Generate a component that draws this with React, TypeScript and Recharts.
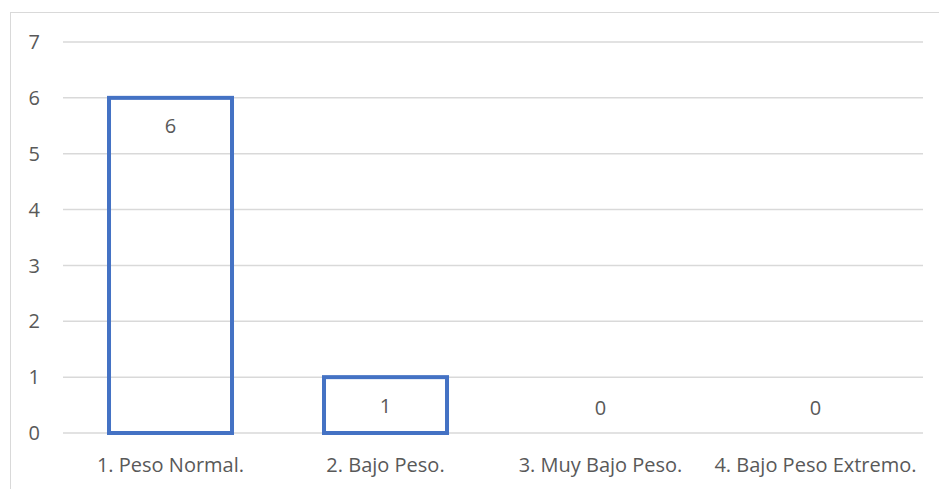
import React from "react";
import { BarChart, Bar, XAxis, YAxis, CartesianGrid } from "recharts";

const categories = ["1. Peso Normal.", "2. Bajo Peso.", "3. Muy Bajo Peso.", "4. Bajo Peso Extremo."];
const values = [6, 1, 0, 0];
const yTicks = [0, 1, 2, 3, 4, 5, 6, 7];

const data = categories.map((name, i) => ({ name, value: values[i] }));

const FONT = "'Open Sans', Lato, sans-serif";
const FS = 20;
const TEXT = "#595959";
const BLUE = "#4472C4";

const renderBar = (props: any) => {
  const { x, y, width, height, value } = props;
  const v = Array.isArray(value) ? value[1] - value[0] : Number(value);
  const cx = Number(x) + Number(width) / 2;
  const h = Number(height);
  const top = Number(y);
  const cy = v === 0 ? top + h - 26 : top + 28;
  return (
    <g>
      {h > 0 ? (
        <rect x={x} y={top} width={width} height={h} fill="none" stroke={BLUE} strokeWidth={4} />
      ) : null}
      <text x={cx} y={cy} textAnchor="middle" dominantBaseline="central" fill={TEXT} fontSize={FS} fontFamily={FONT}>
        {v}
      </text>
    </g>
  );
};

export default function App() {
  return (
    <div style={{ position: "absolute", left: 0, top: 0, width: 939, height: 489, overflow: "hidden", background: "#fff" }}>
      <div style={{ position: "absolute", left: 10, top: 12, width: 960, height: 520, border: "1px solid #d9d9d9", boxSizing: "border-box" }} />
      <div style={{ position: "absolute", left: 0, top: 0 }}>
        <BarChart width={939} height={489} data={data} margin={{ top: 42, right: 16, bottom: 0, left: 0 }} barCategoryGap="21.4%">
          <CartesianGrid vertical={false} stroke="#d9d9d9" strokeWidth={1.5} />
          <XAxis dataKey="name" height={56} axisLine={false} tickLine={false} tickSize={0} tickMargin={25} interval={0}
            tick={{ fill: TEXT, fontSize: FS, fontFamily: FONT }} />
          <YAxis width={63} domain={[0, 7]} ticks={yTicks} axisLine={false} tickLine={false} tickSize={0} tickMargin={23}
            tick={{ fill: TEXT, fontSize: FS, fontFamily: FONT }} />
          <Bar dataKey="value" fill="none" stroke={BLUE} strokeWidth={4} isAnimationActive={false} shape={renderBar} />
        </BarChart>
      </div>
    </div>
  );
}
